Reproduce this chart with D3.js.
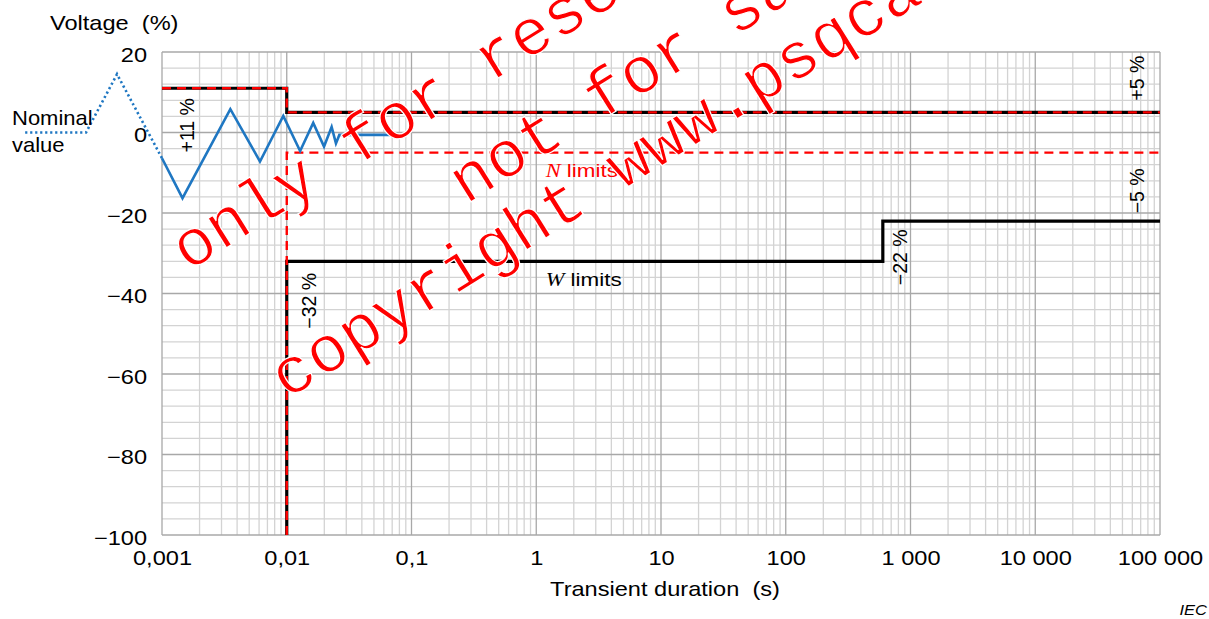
<!DOCTYPE html>
<html>
<head>
<meta charset="utf-8">
<script src="https://cdn.jsdelivr.net/npm/d3@7"></script>
<style>
  body { margin: 0; background: #fff; }
  svg text { font-family: "Liberation Sans", Arial, sans-serif; }
</style>
</head>
<body>
<svg id="chart" width="1209" height="619"></svg>
<script>
// tick values and labels
const xTicks = [0.001, 0.01, 0.1, 1, 10, 100, 1000, 10000, 100000];
const xTickLabels = ["0,001", "0,01", "0,1", "1", "10", "100", "1 000", "10 000", "100 000"];
const yTicks = [20, 0, -20, -40, -60, -80, -100];
const yTickLabels = ["20", "0", "\u221220", "\u221240", "\u221260", "\u221280", "\u2212100"];

// limit curves [time s, voltage %]
const upperLimit = [[0.001, 11], [0.01, 11], [0.01, 5], [100000, 5]];
const nLowerLimit = [[0.01, -100], [0.01, -5], [100000, -5]];
const wLowerLimit = [[0.01, -100], [0.01, -32], [600, -32], [600, -22], [100000, -22]];

// example transient
const nominalTime = [0.00008, 0.000246, 0.000436, 0.001];
const nominalVolt = [0, 0, 14.5, -6.4];
const transientTime = [0.001, 0.00146, 0.00353, 0.0061, 0.00938, 0.0128, 0.0163, 0.0199, 0.0229, 0.0248, 0.0264, 0.078];
const transientVolt = [-6.4, -16.3, 5.8, -7.2, 4.1, -4.6, 2.4, -3.5, 1.4, -2.7, -0.6, -0.6];

const margin = {top: 52, right: 49, bottom: 84, left: 162};
const W = 1209, H = 619;
const width = W - margin.left - margin.right,
      height = H - margin.top - margin.bottom;
const SX = 1.18; // glyphs in the source are a bit wide

const svg = d3.select("#chart");
const g = svg.append("g")
  .attr("transform", "translate(" + margin.left + "," + margin.top + ")");

const x = d3.scaleLog().domain([0.001, 100000]).range([0, width]);
const y = d3.scaleLinear().domain([-100, 20]).range([height, 0]);

// wide text helper
function wideText(parent, px, py, sx) {
  return parent.append("text")
    .attr("transform", "translate(" + px + "," + py + ") scale(" + sx + ",1)");
}

// grid
const vMinor = [], vMajor = [];
for (let e = -3; e <= 5; e++) {
  for (let k = 1; k <= 9; k++) {
    const v = k * Math.pow(10, e);
    if (v > 100000 * 1.0001) break;
    (k === 1 ? vMajor : vMinor).push(v);
  }
}
const hMinor = d3.range(-100, 21, 4).filter(function(d) { return d % 20 !== 0; });

const grid = g.append("g").attr("class", "grid");
grid.selectAll("line.vminor").data(vMinor).enter().append("line")
  .attr("x1", function(d) { return x(d); }).attr("x2", function(d) { return x(d); })
  .attr("y1", 0).attr("y2", height)
  .style("stroke", "#d3d3d3").style("stroke-width", 1.3);
grid.selectAll("line.hminor").data(hMinor).enter().append("line")
  .attr("x1", 0).attr("x2", width)
  .attr("y1", function(d) { return y(d); }).attr("y2", function(d) { return y(d); })
  .style("stroke", "#d3d3d3").style("stroke-width", 1.3);
grid.selectAll("line.vmajor").data(vMajor).enter().append("line")
  .attr("x1", function(d) { return x(d); }).attr("x2", function(d) { return x(d); })
  .attr("y1", 0).attr("y2", height)
  .style("stroke", "#a8a8a8").style("stroke-width", 1.3);
grid.selectAll("line.hmajor").data(yTicks).enter().append("line")
  .attr("x1", 0).attr("x2", width)
  .attr("y1", function(d) { return y(d); }).attr("y2", function(d) { return y(d); })
  .style("stroke", "#a8a8a8").style("stroke-width", 1.3);

// axes
const xAxis = g.append("g")
  .attr("transform", "translate(0," + height + ")")
  .call(d3.axisBottom(x).tickValues(xTicks).tickSize(0).tickPadding(16)
    .tickFormat(function(d, i) { return xTickLabels[i]; }));
const yAxis = g.append("g")
  .call(d3.axisLeft(y).tickValues(yTicks).tickSize(0).tickPadding(12.7)
    .tickFormat(function(d, i) { return yTickLabels[i]; }));
[xAxis, yAxis].forEach(function(a) {
  a.select(".domain").remove();
  a.selectAll("text").style("font-size", "20px").attr("fill", "#000")
    .style("font-family", "'Liberation Sans', Arial, sans-serif")
    .attr("transform", "scale(" + SX + ",1)");
});
yAxis.selectAll("text").attr("dy", "0.45em");

const line = d3.line()
  .x(function(d) { return x(d[0]); })
  .y(function(d) { return y(d[1]); });

// limits: black solid, red dashed N on top
g.append("path").attr("d", line(wLowerLimit))
  .style("fill", "none").style("stroke", "#000").style("stroke-width", 3.2);
g.append("path").attr("d", line(upperLimit))
  .style("fill", "none").style("stroke", "#000").style("stroke-width", 3.2);
g.append("path").attr("d", line(nLowerLimit))
  .style("fill", "none").style("stroke", "#ff0000").style("stroke-width", 2.4)
  .style("stroke-dasharray", "9,6");
g.append("path").attr("d", line(upperLimit))
  .style("fill", "none").style("stroke", "#ff0000").style("stroke-width", 2.4)
  .style("stroke-dasharray", "9,6");

// transient
const nominalPts = nominalTime.map(function(t, i) { return [t, nominalVolt[i]]; });
const transientPts = transientTime.map(function(t, i) { return [t, transientVolt[i]]; });
g.append("path").attr("d", line(nominalPts))
  .style("fill", "none").style("stroke", "#1f77c2").style("stroke-width", 2.6)
  .style("stroke-dasharray", "2.2,2.8");
g.append("path").attr("d", line(transientPts))
  .style("fill", "none").style("stroke", "#1f77c2").style("stroke-width", 2.6)
  .style("stroke-linejoin", "miter");

// rotated percentage labels
const pctLabels = [
  {t: "+11 %", px: x(0.00147) + 11, py: y(1.8)},
  {t: "\u221232 %", px: x(0.0132) + 14, py: y(-41.8)},
  {t: "\u221222 %", px: x(850) + 5, py: y(-31)},
  {t: "+5 %", px: x(70000) + 3, py: y(13.5)},
  {t: "\u22125 %", px: x(70000) + 3, py: y(-14.5)}
];
g.selectAll("text.pct").data(pctLabels).enter().append("text")
  .attr("class", "pct")
  .attr("transform", function(d) { return "translate(" + d.px + "," + d.py + ") rotate(-90)"; })
  .attr("text-anchor", "middle")
  .style("font-size", "19.5px")
  .text(function(d) { return d.t; });

// curve names
const nLab = wideText(g, x(0.00945) + 262, y(-11), SX).style("font-size", "19px")
  .attr("fill", "#ff0000");
nLab.append("tspan").style("font-family", "'Liberation Serif', 'Times New Roman', serif")
  .style("font-style", "italic").text("N");
nLab.append("tspan").text(" limits");
const wLab = wideText(g, x(0.00945) + 262, y(-38.2), SX).style("font-size", "19px")
  .attr("fill", "#000");
wLab.append("tspan").style("font-family", "'Liberation Serif', 'Times New Roman', serif")
  .style("font-style", "italic").text("W");
wLab.append("tspan").text(" limits");

// titles
wideText(svg, 50, 30, SX).style("font-size", "20px").text("Voltage\u00a0\u00a0(%)");
wideText(svg, margin.left + width / 2 + 4, 596, SX)
  .attr("text-anchor", "middle").style("font-size", "20px")
  .text("Transient duration\u00a0\u00a0(s)");
wideText(svg, 12, 125, 1.1).style("font-size", "20px").text("Nominal");
wideText(svg, 12, 152, 1.1).style("font-size", "20px").text("value");
wideText(svg, 1207, 615, SX).attr("text-anchor", "end")
  .style("font-size", "14px").style("font-style", "italic").text("IEC");

// watermark
const marks = [
  {t: "only for research", px: 188, py: 272},
  {t: "not for sale", px: 466, py: 205},
  {t: "copyright www.psqca.com.pk", px: 287, py: 400}
];
svg.selectAll("text.mark").data(marks).enter().append("text")
  .attr("class", "mark")
  .attr("transform", function(d) { return "translate(" + d.px + "," + d.py + ") rotate(-32)"; })
  .style("font-family", "'Liberation Mono', 'Courier New', monospace")
  .style("font-size", "66px")
  .attr("fill", "#ff0000")
  .attr("stroke", "#fff")
  .attr("stroke-width", 1.2)
  .text(function(d) { return d.t; });
</script>
</body>
</html>
